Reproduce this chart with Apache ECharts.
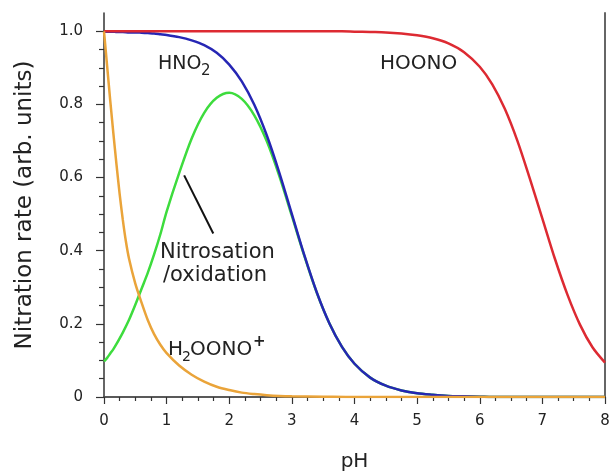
<!DOCTYPE html>
<html>
<head>
<meta charset="utf-8">
<script src="https://cdn.jsdelivr.net/npm/echarts@6/dist/echarts.min.js"></script>
<style>
html,body{margin:0;padding:0;background:#fff;}
#c{width:609px;height:474px;}
</style>
</head>
<body>
<div id="c"></div>
<script>
// pH sample points
var pH = [0,0.05,0.1,0.15,0.2,0.3,0.4,0.5,0.6,0.7,0.8,0.9,1.0,1.2,1.4,1.6,1.8,2.0,2.2,2.4,2.6,2.8,3.0,3.2,3.4,3.6,3.8,4.0,4.25,4.5,4.75,5.0,5.25,5.5,5.75,6.0,6.2,6.4,6.6,6.8,7.0,7.2,7.4,7.6,7.8,8.0];
// HOONO (red)
var hoono = [1,1,1,1,1,1,1,1,1,1,1,1,1,1,1,1,1,1,1,1,1,1,1,1,1,1,1,0.999,0.998,0.997,0.994,0.989,0.981,0.967,0.943,0.903,0.855,0.788,0.701,0.597,0.488,0.378,0.28,0.198,0.136,0.094];
// HNO2 (blue)
var hno2 = [0.999,0.999,0.999,0.999,0.998,0.998,0.997,0.997,0.996,0.995,0.994,0.992,0.990,0.984,0.975,0.962,0.941,0.909,0.863,0.799,0.715,0.613,0.5,0.387,0.285,0.201,0.137,0.091,0.053,0.031,0.018,0.010,0.006,0.003,0.002,0.001,0,0,0,0,0,0,0,0,0,0];
// Nitrosation / oxidation (green)
var nitro = [0.097,0.107,0.119,0.131,0.145,0.176,0.211,0.252,0.296,0.340,0.390,0.445,0.507,0.612,0.707,0.777,0.818,0.832,0.815,0.770,0.699,0.604,0.495,0.385,0.284,0.201,0.137,0.091,0.053,0.031,0.018,0.010,0.006,0.003,0.002,0.001,0,0,0,0,0,0,0,0,0,0];
// H2OONO+ (orange), own sample points
var pHo = [0,0.05,0.1,0.15,0.2,0.25,0.3,0.35,0.4,0.5,0.6,0.7,0.8,0.9,1.0,1.2,1.4,1.6,1.8,2.0,2.2,2.4,2.6,2.8,3.0,3.5,4,5,6,7,8];
var h2oono = [1.0,0.905,0.81,0.72,0.635,0.555,0.485,0.425,0.378,0.31,0.258,0.21,0.172,0.143,0.12,0.086,0.061,0.042,0.028,0.019,0.012,0.008,0.005,0.003,0.002,0.001,0,0,0,0,0];
// axis ticks
var yMajor = [0,0.2,0.4,0.6,0.8,1.0];
var pointerLine = [[1.28,0.606],[1.745,0.447]];

function pairs(xs, ys){ return xs.map(function(x,i){ return [x, ys[i]]; }); }
var yMinor = [];
for (var k = 1; k < 20; k++) { if (k % 4 !== 0) yMinor.push(+(k*0.05).toFixed(2)); }

var FONT = 'DejaVu Sans';
var TXT = '#222';
var chart = echarts.init(document.getElementById('c'), null, {renderer:'canvas'});
var lineW = 2.5;
function lineSeries(name, data, color){
  return {type:'line',name:name,data:data,showSymbol:false,smooth:0.3,
    lineStyle:{color:color,width:lineW}};
}
var green = lineSeries('Nitrosation/oxidation', pairs(pH,nitro), '#3ddc3d');
green.markLine = {silent:true,symbol:['none','none'],label:{show:false},
  lineStyle:{color:'#111',width:2,type:'solid'},
  data:[[{coord:pointerLine[0]},{coord:pointerLine[1]}]]};
chart.setOption({
  animation:false,
  backgroundColor:'#fff',
  grid:{left:104,right:4,top:13,bottom:77,outerBoundsMode:'none'},
  xAxis:[{
    type:'value',min:0,max:8,interval:1,position:'bottom',
    name:'pH',nameLocation:'middle',nameGap:55,
    nameTextStyle:{fontFamily:FONT,fontSize:20,color:TXT},
    axisLine:{show:true,lineStyle:{color:'#333',width:1.5}},
    axisTick:{show:true,length:7,lineStyle:{color:'#333',width:1.2}},
    minorTick:{show:true,splitNumber:4,length:4,lineStyle:{color:'#333',width:1.2}},
    splitLine:{show:false},minorSplitLine:{show:false},
    axisLabel:{fontFamily:FONT,fontSize:15,color:TXT,margin:17}
  },{
    type:'value',min:0,max:8,position:'top',
    axisLine:{show:true,lineStyle:{color:'#555',width:1.5}},
    axisTick:{show:false},axisLabel:{show:false},splitLine:{show:false}
  }],
  yAxis:[{
    type:'value',min:0,max:1.05,position:'left',
    name:'Nitration rate (arb. units)',nameLocation:'middle',nameGap:67,
    nameTextStyle:{fontFamily:FONT,fontSize:23,color:TXT},
    axisLine:{show:true,lineStyle:{color:'#333',width:1.5}},
    axisTick:{show:true,length:8,customValues:yMajor,lineStyle:{color:'#333',width:1.2}},
    splitLine:{show:false},
    axisLabel:{fontFamily:FONT,fontSize:15,color:TXT,margin:21,customValues:yMajor,
      formatter:function(v){ return v===0?'0':v.toFixed(1); }}
  },{
    type:'value',min:0,max:1.05,position:'left',
    axisLine:{show:false},
    axisTick:{show:true,length:5,customValues:yMinor,lineStyle:{color:'#333',width:1.2}},
    axisLabel:{show:false},splitLine:{show:false}
  },{
    type:'value',min:0,max:1.05,position:'right',
    axisLine:{show:true,lineStyle:{color:'#666',width:2}},
    axisTick:{show:false},axisLabel:{show:false},splitLine:{show:false}
  }],
  series:[
    green,
    lineSeries('HNO2', pairs(pH,hno2), '#2626b4'),
    lineSeries('HOONO', pairs(pH,hoono), '#dd2a32'),
    lineSeries('H2OONO+', pairs(pHo,h2oono), '#eaa43a')
  ],
  graphic:[
    {type:'text',x:158,y:64,style:{text:'HNO',fontFamily:FONT,fontSize:19,fill:TXT,align:'left',verticalAlign:'middle'}},
    {type:'text',x:201,y:71,style:{text:'2',fontFamily:FONT,fontSize:15,fill:TXT,align:'left',verticalAlign:'middle'}},
    {type:'text',x:380,y:64,style:{text:'HOONO',fontFamily:FONT,fontSize:20,fill:TXT,align:'left',verticalAlign:'middle'}},
    {type:'text',x:160,y:253,style:{text:'Nitrosation',fontFamily:FONT,fontSize:21,fill:TXT,align:'left',verticalAlign:'middle'}},
    {type:'text',x:163,y:276,style:{text:'/oxidation',fontFamily:FONT,fontSize:21,fill:TXT,align:'left',verticalAlign:'middle'}},
    {type:'text',x:168,y:350,style:{text:'H',fontFamily:FONT,fontSize:20,fill:TXT,align:'left',verticalAlign:'middle'}},
    {type:'text',x:182,y:357,style:{text:'2',fontFamily:FONT,fontSize:14,fill:TXT,align:'left',verticalAlign:'middle'}},
    {type:'text',x:190,y:350,style:{text:'OONO',fontFamily:FONT,fontSize:20,fill:TXT,align:'left',verticalAlign:'middle'}},
    {type:'text',x:253,y:342,style:{text:'+',fontFamily:FONT,fontSize:15,fontWeight:'bold',fill:TXT,align:'left',verticalAlign:'middle'}}
  ]
});
</script>
</body>
</html>
